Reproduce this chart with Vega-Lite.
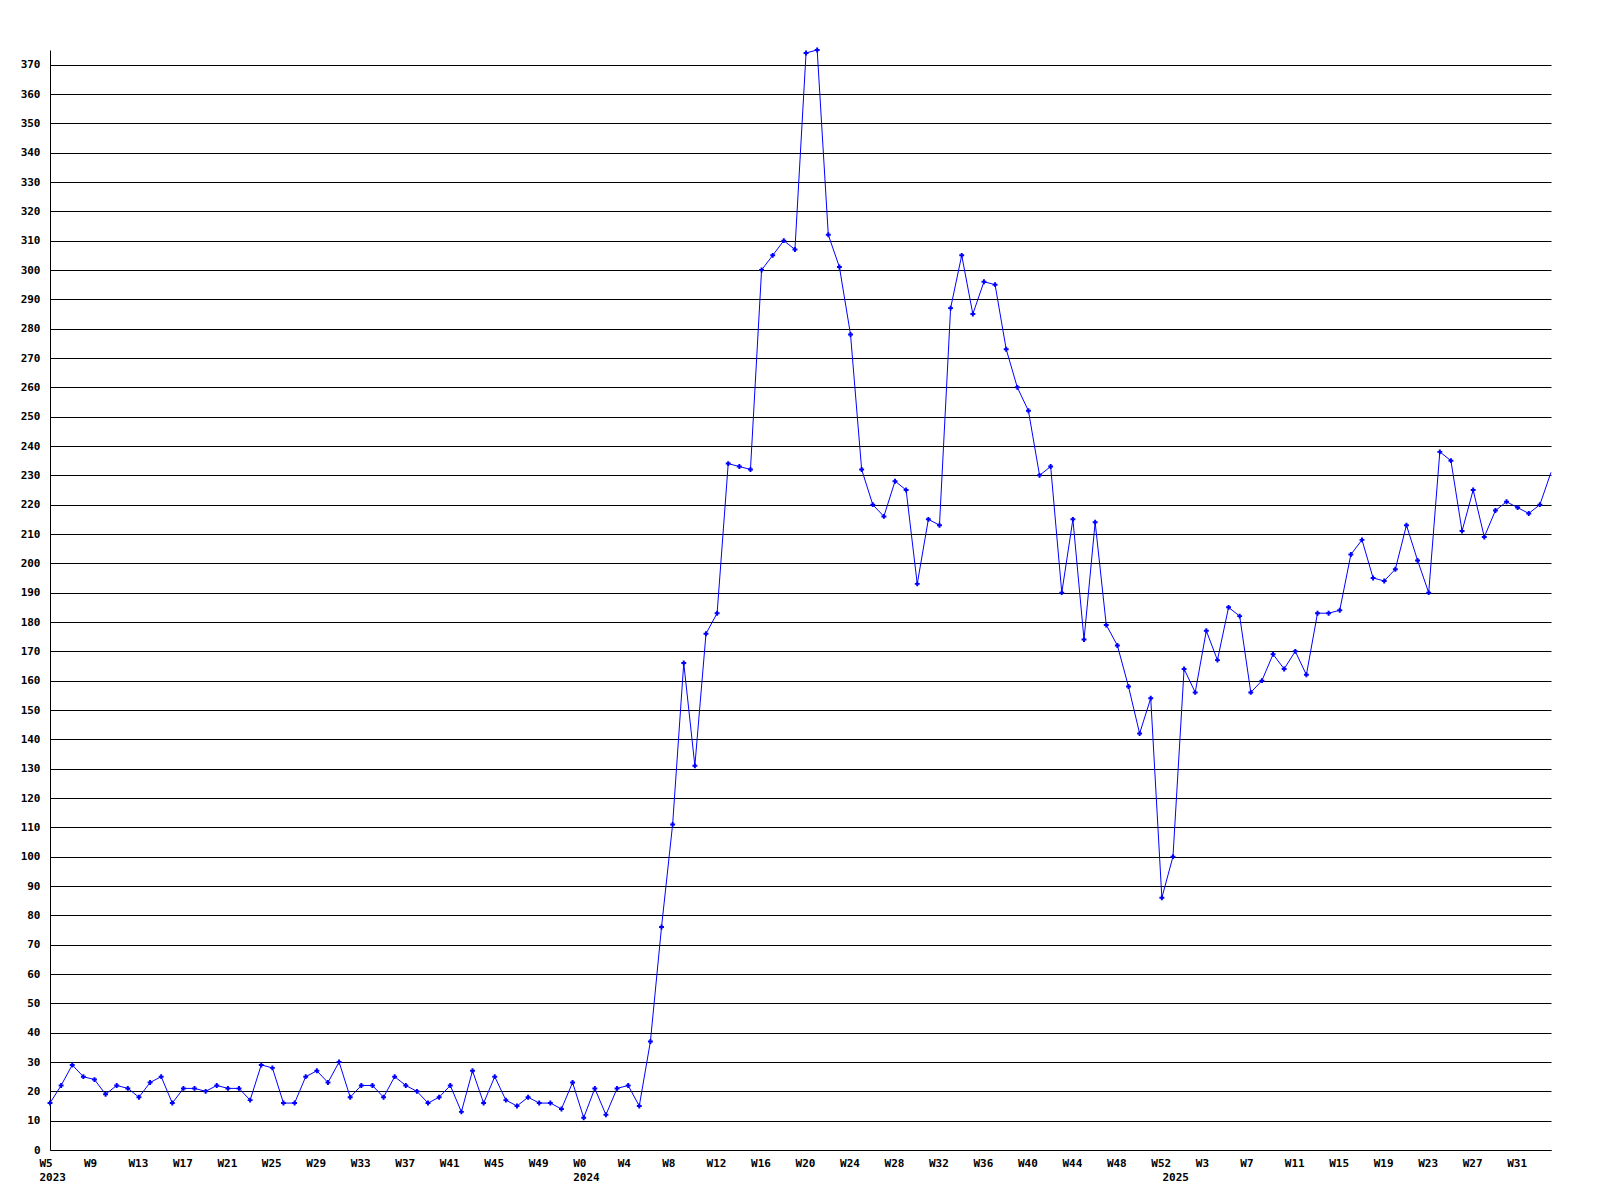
{
  "$schema": "https://vega.github.io/schema/vega-lite/v6.json",
  "width": 1501,
  "height": 1100,
  "autosize": {"type": "none"},
  "padding": {"left": 50, "top": 50, "right": 49, "bottom": 50},
  "background": "white",
  "config": {"view": {"stroke": null}},
  "data": {"values": [
    {"week": "2023 W5", "count": 16}, {"week": "2023 W6", "count": 22}, {"week": "2023 W7", "count": 29}, {"week": "2023 W8", "count": 25},
    {"week": "2023 W9", "count": 24}, {"week": "2023 W10", "count": 19}, {"week": "2023 W11", "count": 22}, {"week": "2023 W12", "count": 21},
    {"week": "2023 W13", "count": 18}, {"week": "2023 W14", "count": 23}, {"week": "2023 W15", "count": 25}, {"week": "2023 W16", "count": 16},
    {"week": "2023 W17", "count": 21}, {"week": "2023 W18", "count": 21}, {"week": "2023 W19", "count": 20}, {"week": "2023 W20", "count": 22},
    {"week": "2023 W21", "count": 21}, {"week": "2023 W22", "count": 21}, {"week": "2023 W23", "count": 17}, {"week": "2023 W24", "count": 29},
    {"week": "2023 W25", "count": 28}, {"week": "2023 W26", "count": 16}, {"week": "2023 W27", "count": 16}, {"week": "2023 W28", "count": 25},
    {"week": "2023 W29", "count": 27}, {"week": "2023 W30", "count": 23}, {"week": "2023 W31", "count": 30}, {"week": "2023 W32", "count": 18},
    {"week": "2023 W33", "count": 22}, {"week": "2023 W34", "count": 22}, {"week": "2023 W35", "count": 18}, {"week": "2023 W36", "count": 25},
    {"week": "2023 W37", "count": 22}, {"week": "2023 W38", "count": 20}, {"week": "2023 W39", "count": 16}, {"week": "2023 W40", "count": 18},
    {"week": "2023 W41", "count": 22}, {"week": "2023 W42", "count": 13}, {"week": "2023 W43", "count": 27}, {"week": "2023 W44", "count": 16},
    {"week": "2023 W45", "count": 25}, {"week": "2023 W46", "count": 17}, {"week": "2023 W47", "count": 15}, {"week": "2023 W48", "count": 18},
    {"week": "2023 W49", "count": 16}, {"week": "2023 W50", "count": 16}, {"week": "2023 W51", "count": 14}, {"week": "2023 W52", "count": 23},
    {"week": "2024 W0", "count": 11}, {"week": "2024 W1", "count": 21}, {"week": "2024 W2", "count": 12}, {"week": "2024 W3", "count": 21},
    {"week": "2024 W4", "count": 22}, {"week": "2024 W5", "count": 15}, {"week": "2024 W6", "count": 37}, {"week": "2024 W7", "count": 76},
    {"week": "2024 W8", "count": 111}, {"week": "2024 W9", "count": 166}, {"week": "2024 W10", "count": 131}, {"week": "2024 W11", "count": 176},
    {"week": "2024 W12", "count": 183}, {"week": "2024 W13", "count": 234}, {"week": "2024 W14", "count": 233}, {"week": "2024 W15", "count": 232},
    {"week": "2024 W16", "count": 300}, {"week": "2024 W17", "count": 305}, {"week": "2024 W18", "count": 310}, {"week": "2024 W19", "count": 307},
    {"week": "2024 W20", "count": 374}, {"week": "2024 W21", "count": 375}, {"week": "2024 W22", "count": 312}, {"week": "2024 W23", "count": 301},
    {"week": "2024 W24", "count": 278}, {"week": "2024 W25", "count": 232}, {"week": "2024 W26", "count": 220}, {"week": "2024 W27", "count": 216},
    {"week": "2024 W28", "count": 228}, {"week": "2024 W29", "count": 225}, {"week": "2024 W30", "count": 193}, {"week": "2024 W31", "count": 215},
    {"week": "2024 W32", "count": 213}, {"week": "2024 W33", "count": 287}, {"week": "2024 W34", "count": 305}, {"week": "2024 W35", "count": 285},
    {"week": "2024 W36", "count": 296}, {"week": "2024 W37", "count": 295}, {"week": "2024 W38", "count": 273}, {"week": "2024 W39", "count": 260},
    {"week": "2024 W40", "count": 252}, {"week": "2024 W41", "count": 230}, {"week": "2024 W42", "count": 233}, {"week": "2024 W43", "count": 190},
    {"week": "2024 W44", "count": 215}, {"week": "2024 W45", "count": 174}, {"week": "2024 W46", "count": 214}, {"week": "2024 W47", "count": 179},
    {"week": "2024 W48", "count": 172}, {"week": "2024 W49", "count": 158}, {"week": "2024 W50", "count": 142}, {"week": "2024 W51", "count": 154},
    {"week": "2024 W52", "count": 86}, {"week": "2025 W0", "count": 100}, {"week": "2025 W1", "count": 164}, {"week": "2025 W2", "count": 156},
    {"week": "2025 W3", "count": 177}, {"week": "2025 W4", "count": 167}, {"week": "2025 W5", "count": 185}, {"week": "2025 W6", "count": 182},
    {"week": "2025 W7", "count": 156}, {"week": "2025 W8", "count": 160}, {"week": "2025 W9", "count": 169}, {"week": "2025 W10", "count": 164},
    {"week": "2025 W11", "count": 170}, {"week": "2025 W12", "count": 162}, {"week": "2025 W13", "count": 183}, {"week": "2025 W14", "count": 183},
    {"week": "2025 W15", "count": 184}, {"week": "2025 W16", "count": 203}, {"week": "2025 W17", "count": 208}, {"week": "2025 W18", "count": 195},
    {"week": "2025 W19", "count": 194}, {"week": "2025 W20", "count": 198}, {"week": "2025 W21", "count": 213}, {"week": "2025 W22", "count": 201},
    {"week": "2025 W23", "count": 190}, {"week": "2025 W24", "count": 238}, {"week": "2025 W25", "count": 235}, {"week": "2025 W26", "count": 211},
    {"week": "2025 W27", "count": 225}, {"week": "2025 W28", "count": 209}, {"week": "2025 W29", "count": 218}, {"week": "2025 W30", "count": 221},
    {"week": "2025 W31", "count": 219}, {"week": "2025 W32", "count": 217}, {"week": "2025 W33", "count": 220}, {"week": "2025 W34", "count": 231}
  ]},
  "encoding": {
    "x": {
      "field": "week", "type": "ordinal", "sort": null,
      "scale": {"type": "point", "padding": 0},
      "axis": {
        "title": null,
        "values": ["2023 W5", "2023 W9", "2023 W13", "2023 W17", "2023 W21", "2023 W25", "2023 W29", "2023 W33", "2023 W37", "2023 W41", "2023 W45", "2023 W49",
                   "2024 W0", "2024 W4", "2024 W8", "2024 W12", "2024 W16", "2024 W20", "2024 W24", "2024 W28", "2024 W32", "2024 W36", "2024 W40", "2024 W44", "2024 W48", "2024 W52",
                   "2025 W0", "2025 W3", "2025 W7", "2025 W11", "2025 W15", "2025 W19", "2025 W23", "2025 W27", "2025 W31"],
        "labelExpr": "datum.value == '2025 W0' ? ['', '2025'] : ((datum.value == '2023 W5' || datum.value == '2024 W0') ? [split(datum.value, ' ')[1], split(datum.value, ' ')[0]] : split(datum.value, ' ')[1])",
        "ticks": false,
        "grid": false,
        "domainColor": "black",
        "domainWidth": 1,
        "labelAngle": 0,
        "labelAlign": "left",
        "labelOffset": -11,
        "labelBaseline": "top",
        "labelPadding": 7,
        "labelLineHeight": 14.5,
        "labelFont": "DejaVu Sans Mono",
        "labelFontWeight": "bold",
        "labelFontSize": 11,
        "labelColor": "black",
        "labelOverlap": false,
        "labelBound": false
      }
    },
    "y": {
      "field": "count", "type": "quantitative",
      "scale": {"domain": [0, 375], "nice": false, "zero": true},
      "axis": {
        "title": null,
        "values": [0, 10, 20, 30, 40, 50, 60, 70, 80, 90, 100, 110, 120, 130, 140, 150, 160, 170, 180, 190, 200, 210, 220, 230, 240, 250, 260, 270, 280, 290, 300, 310, 320, 330, 340, 350, 360, 370],
        "ticks": false,
        "grid": true,
        "gridColor": "black",
        "gridOpacity": 1,
        "gridWidth": 1,
        "domainColor": "black",
        "domainWidth": 1,
        "labelPadding": 10,
        "labelFont": "DejaVu Sans Mono",
        "labelFontWeight": "bold",
        "labelFontSize": 11,
        "labelColor": "black",
        "labelOverlap": false,
        "labelBound": false
      }
    }
  },
  "layer": [
    {"mark": {"type": "line", "color": "#0000ff", "strokeWidth": 1}, "encoding": {"order": {"value": null}}},
    {"transform": [{"filter": "datum.week != '2025 W34'"}],
     "mark": {"type": "point", "shape": "cross", "filled": true, "size": 24, "color": "#0000ff", "opacity": 1}}
  ]
}
